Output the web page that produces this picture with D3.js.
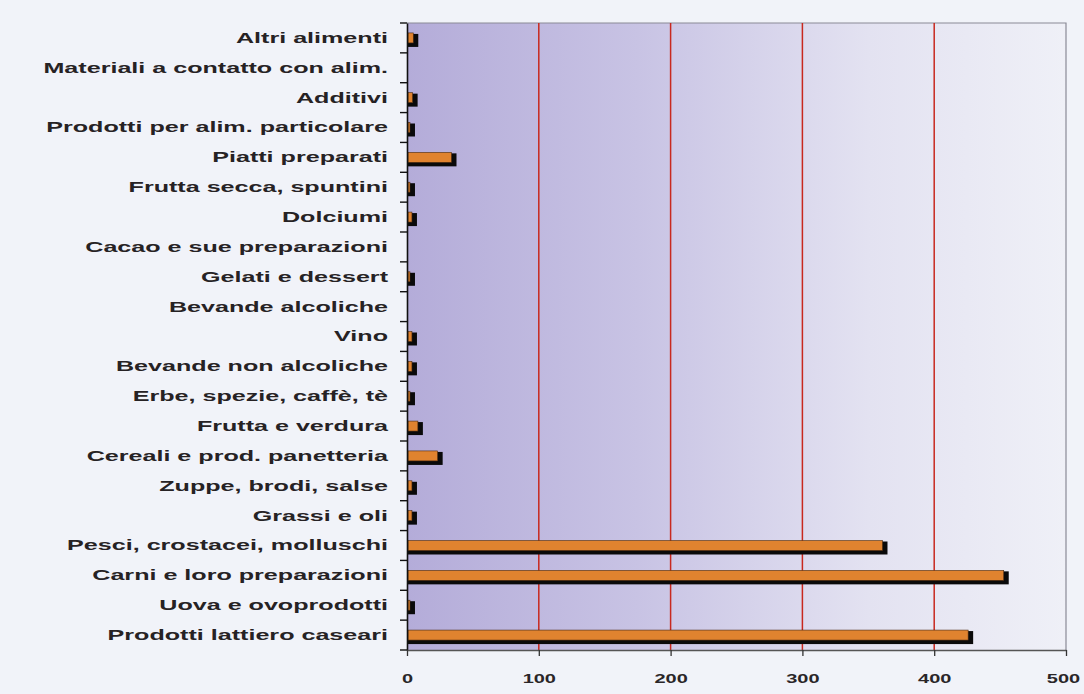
<!DOCTYPE html>
<html><head><meta charset="utf-8">
<script src="https://cdn.jsdelivr.net/npm/d3@7"></script>
<style>
html,body{margin:0;padding:0;background:#f1f3f9;}
svg{display:block;}
</style></head>
<body>
<svg id="chart" width="1084" height="694"></svg>
<script>
const categories = [
  "Altri alimenti",
  "Materiali a contatto con alim.",
  "Additivi",
  "Prodotti per alim. particolare",
  "Piatti preparati",
  "Frutta secca, spuntini",
  "Dolciumi",
  "Cacao e sue preparazioni",
  "Gelati e dessert",
  "Bevande alcoliche",
  "Vino",
  "Bevande non alcoliche",
  "Erbe, spezie, caffè, tè",
  "Frutta e verdura",
  "Cereali e prod. panetteria",
  "Zuppe, brodi, salse",
  "Grassi e oli",
  "Pesci, crostacei, molluschi",
  "Carni e loro preparazioni",
  "Uova e ovoprodotti",
  "Prodotti lattiero caseari"
];
const values = [4, 0, 3.5, 1.5, 33, 1.5, 3, 0, 1.5, 0, 3, 3, 1.5, 7.5, 22.5, 3, 3, 360, 452, 1.5, 425];
const xTicks = [0, 100, 200, 300, 400, 500];

(function () {
const svg = d3.select("#chart");
const mLeft = 407, mRight = 1066, mTop = 23, mBottom = 650;

const x = d3.scaleLinear().domain([0, 500]).range([mLeft, mRight]);
const y = d3.scaleBand().domain(categories).range([mTop, mBottom]).paddingInner(0).paddingOuter(0);

const defs = svg.append("defs");
const grad = defs.append("linearGradient").attr("id", "bg").attr("x1", "0").attr("x2", "1").attr("y1", "0").attr("y2", "0");
grad.append("stop").attr("offset", "0%").attr("stop-color", "#b4acd9");
grad.append("stop").attr("offset", "35%").attr("stop-color", "#c8c3e4");
grad.append("stop").attr("offset", "70%").attr("stop-color", "#e3e2f1");
grad.append("stop").attr("offset", "100%").attr("stop-color", "#eff0f7");

svg.append("rect").attr("x", mLeft).attr("y", mTop).attr("width", mRight - mLeft).attr("height", mBottom - mTop)
  .attr("fill", "url(#bg)");

svg.append("path").attr("d", `M${mLeft},${mTop}H${mRight}V${mBottom}`).attr("fill", "none")
  .attr("stroke", "#8a8a96").attr("stroke-width", 1.2);

svg.append("g").selectAll("line").data(xTicks.filter(t => t > 0 && t < 500)).join("line")
  .attr("x1", d => x(d)).attr("x2", d => x(d)).attr("y1", mTop).attr("y2", mBottom)
  .attr("stroke", "#c8281e").attr("stroke-width", 1.5);

const barH = 10, offX = 3, offY = 4, depth = 5;
const data = values.map((v, i) => ({c: categories[i], v}));
const bars = svg.append("g");
bars.selectAll("rect.sh").data(data.filter(d => d.v > 0)).join("rect")
  .attr("class", "sh")
  .attr("x", x(0) + offX - 2)
  .attr("y", d => y(d.c) + y.bandwidth() / 2 - barH / 2 + 1)
  .attr("width", d => x(d.v) - x(0) + depth)
  .attr("height", barH + offY - 1)
  .attr("fill", "#0a0a0a");
bars.selectAll("rect.bar").data(data.filter(d => d.v > 0)).join("rect")
  .attr("class", "bar")
  .attr("x", x(0) + 1)
  .attr("y", d => y(d.c) + y.bandwidth() / 2 - barH / 2)
  .attr("width", d => x(d.v) - x(0))
  .attr("height", barH)
  .attr("fill", "#e0832f")
  .attr("stroke", "#4a2a12").attr("stroke-width", 0.6);

const yAxis = d3.axisLeft(y).tickSize(0).tickPadding(19);
const gy = svg.append("g").attr("transform", `translate(${mLeft},0)`).call(yAxis);
gy.select(".domain").attr("stroke", "#111").attr("stroke-width", 1.6);
gy.selectAll("text").attr("font-family", "'Liberation Sans', Arial, sans-serif")
  .attr("font-weight", "bold").attr("font-size", "15.5px").attr("fill", "#262224")
  .each(function () {
    const t = d3.select(this);
    const tx = +t.attr("x");
    t.attr("x", 0).attr("transform", `translate(${tx},0) scale(1.62,1)`);
  });
const bounds = categories.map(c => y(c)).concat([mBottom]);
svg.append("g").selectAll("line").data(bounds).join("line")
  .attr("x1", mLeft - 7).attr("x2", mLeft).attr("y1", d => d).attr("y2", d => d)
  .attr("stroke", "#111").attr("stroke-width", 1.4);

const xAxis = d3.axisBottom(x).tickValues(xTicks).tickSize(6).tickPadding(18).tickSizeOuter(0);
const gx = svg.append("g").attr("transform", `translate(0,${mBottom})`).call(xAxis);
gx.select(".domain").attr("stroke", "#555").attr("stroke-width", 1.4);
gx.selectAll(".tick line").attr("stroke", "#333").attr("stroke-width", 1.3);
gx.selectAll(".tick text").attr("font-family", "'Liberation Sans', Arial, sans-serif")
  .attr("font-weight", "bold").attr("font-size", "12.5px").attr("fill", "#2a2628")
  .attr("transform", (d) => d === 500 ? "translate(-3,0) scale(1.6,1)" : "scale(1.6,1)");
})();
</script>
</body></html>
